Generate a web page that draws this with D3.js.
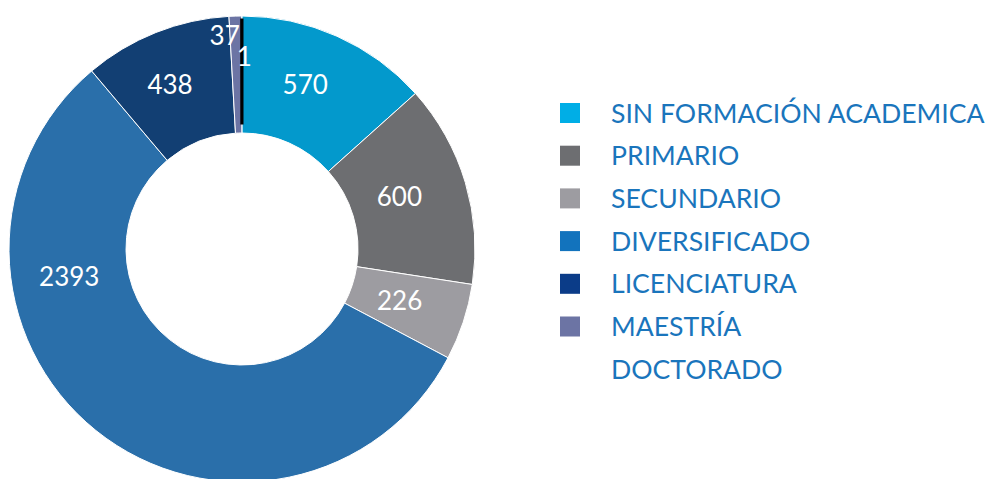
<!DOCTYPE html>
<html>
<head>
<meta charset="utf-8">
<script src="https://cdn.jsdelivr.net/npm/d3@7"></script>
<style>
  html, body { margin: 0; padding: 0; background: #fff; }
  svg { display: block; font-family: Lato, "Open Sans", sans-serif; }
</style>
</head>
<body>
<svg width="990" height="479"></svg>
<script>
// data
const categories = ["SIN FORMACIÓN ACADEMICA", "PRIMARIO", "SECUNDARIO", "DIVERSIFICADO", "LICENCIATURA", "MAESTRÍA", "DOCTORADO"];
const values = [570, 600, 226, 2393, 438, 37, 1];
const sliceColors = ["#0399cc", "#6d6e71", "#9d9ca1", "#2a6faa", "#123f73", "#6c74a4", "#000000"];
const swatchColors = ["#00aee6", "#6d6e71", "#9d9ca1", "#1273bd", "#0b3c88", "#6c74a4", null];

// label nudges (degrees from slice middle, radius)
const labelShift = [-3, -2, 0, 42, -2, -3, 0.7];
const labelRadius = [176, 166, 166, 175, 179, 214, 192];

const svg = d3.select("svg"),
  width = +svg.attr("width"),
  height = +svg.attr("height");

const cx = 242, cy = 249,
  outerR = 233, innerR = 116;

const pie = d3.pie().sort(null).value(d => d.value);
const arcs = pie(values.map((v, i) => ({ value: v, i: i })));

const arc = d3.arc().innerRadius(innerR).outerRadius(outerR);

const g = svg.append("g").attr("transform", `translate(${cx},${cy})`);

// slices
g.selectAll("path.slice")
  .data(arcs)
  .enter().append("path")
  .attr("class", "slice")
  .attr("d", d => d.data.value < 5
    ? d3.arc().innerRadius(innerR + 10).outerRadius(outerR - 4)(d)
    : arc(d))
  .attr("fill", d => sliceColors[d.data.i])
  .attr("stroke", d => d.data.value < 5 ? "#000" : "#fff")
  .attr("stroke-width", d => d.data.value < 5 ? 3 : 1);

// labels
g.selectAll("text.lbl")
  .data(arcs)
  .enter().append("text")
  .attr("class", "lbl")
  .attr("x", d => {
    const a = (d.startAngle + d.endAngle) / 2 + labelShift[d.data.i] * Math.PI / 180;
    return Math.sin(a) * labelRadius[d.data.i];
  })
  .attr("y", d => {
    const a = (d.startAngle + d.endAngle) / 2 + labelShift[d.data.i] * Math.PI / 180;
    return -Math.cos(a) * labelRadius[d.data.i];
  })
  .attr("text-anchor", "middle")
  .attr("dy", "0.36em")
  .attr("fill", "#fff")
  .attr("font-size", 26)
  .text(d => d.data.value);

// legend
const legend = svg.append("g").attr("transform", "translate(560,113)");
const rowH = 42.7;

const item = legend.selectAll("g.item")
  .data(categories)
  .enter().append("g")
  .attr("class", "item")
  .attr("transform", (d, i) => `translate(0,${i * rowH})`);

item.filter((d, i) => swatchColors[i])
  .append("rect")
  .attr("x", 0)
  .attr("y", -10)
  .attr("width", 20)
  .attr("height", 20)
  .attr("fill", d => swatchColors[categories.indexOf(d)]);

item.append("text")
  .attr("x", 51)
  .attr("dy", "0.36em")
  .attr("fill", "#1a75bc")
  .attr("font-size", 26.6)
  .text(d => d);
</script>
</body>
</html>
